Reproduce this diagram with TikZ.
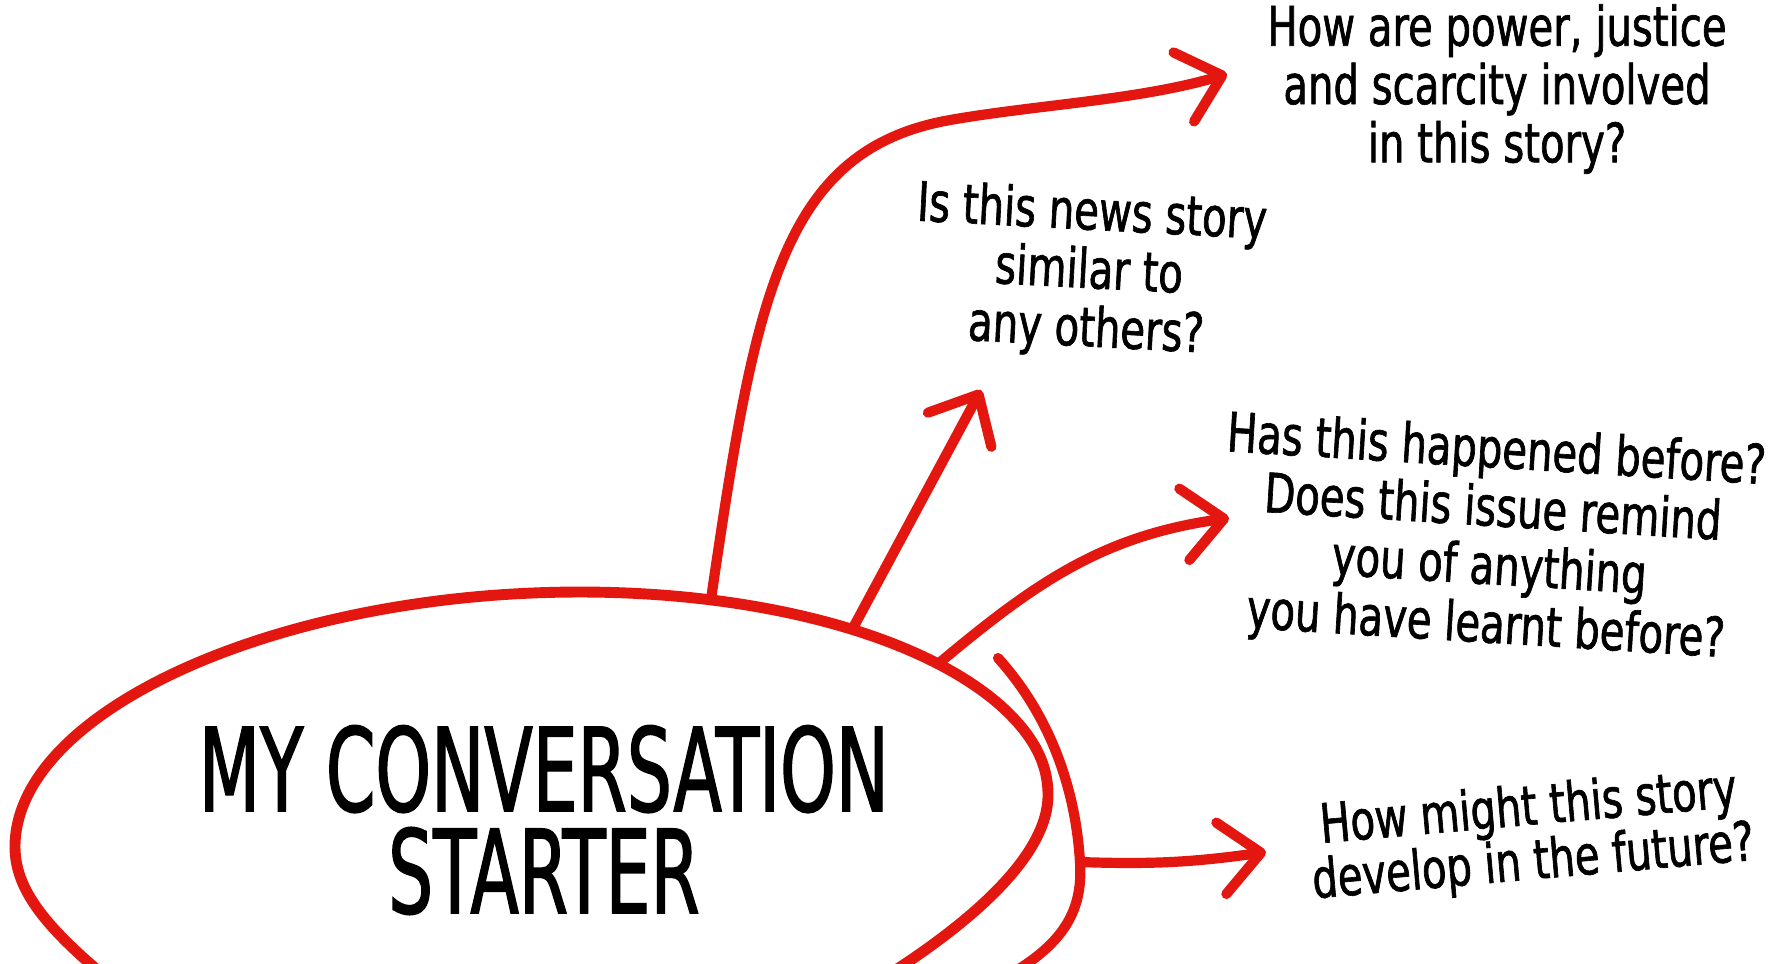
\documentclass[tikz,border=0pt]{standalone}
\usepackage{fontspec}
\usetikzlibrary{arrows.meta}
\newfontfamily\handfont[FakeStretch=0.68,FakeBold=1.2]{DejaVu Sans Condensed}
\newfontfamily\questfont[FakeStretch=0.82,FakeBold=1.2]{DejaVu Sans Condensed}
\definecolor{markred}{HTML}{E3170F}

\begin{document}
\begin{tikzpicture}
[marker/.style={draw=markred, line width=2.9pt, line cap=round, line join=round},
 pointer/.style={marker, -{Straight Barb[length=4mm, width=7.2mm, round]}},
 question/.style={font=\questfont\fontsize{15.5}{16.6}\selectfont, align=center, inner sep=0pt}]
\useasboundingbox (0,0) rectangle (17.85,-9.63);
\clip (0,0) rectangle (17.85,-9.63);
% the starter loop, drawn by hand
\draw [marker, line width=3.1pt] (1.15,-9.85) .. controls (0.55,-9.35) and (0.15,-8.95) .. (0.15,-8.47)
  .. controls (0.15,-7.1) and (2.8,-5.92) .. (5.8,-5.92)
  .. controls (7.6,-5.92) and (9.2,-6.35) .. (10.0,-7.05)
  .. controls (10.3,-7.32) and (10.48,-7.6) .. (10.48,-7.95)
  .. controls (10.48,-8.6) and (9.6,-9.3) .. (8.8,-9.8);
\node [font=\handfont\fontsize{33}{29}\selectfont, align=center] (title) at (5.44,-8.2) {MY CONVERSATION\\STARTER};
\coordinate (s1) at (7.11,-5.99);
\coordinate (s2) at (8.53,-6.28);
\coordinate (s3) at (9.38,-6.64);
\coordinate (s4) at (10.80,-8.62);
\draw [marker] (9.98,-6.58) .. controls (10.45,-7.1) and (10.75,-7.8) .. (s4) .. controls (10.83,-9.1) and (10.65,-9.45) .. (10.0,-9.8);
% questions
\node [question] (power) at (14.97,-0.89) {How are power, justice\\and scarcity involved\\in this story?};
\node [question, rotate=-3] (similar) at (10.89,-2.73) {Is this news story\\similar to\\any others?};
\node [question, rotate=-3.5] (before) at (14.91,-5.4) {Has this happened before?\\Does this issue remind\\you of anything\\you have learnt before?};
\node [question, rotate=5, font=\questfont\fontsize{15.5}{15.5}\selectfont] (future) at (15.31,-8.37) {How might this story\\develop in the future?};
\coordinate (t1) at (12.27,-0.74);
\coordinate (t2) at (9.81,-3.90);
\coordinate (t3) at (12.29,-5.18);
\coordinate (t4) at (12.66,-8.52);
% arrows
\draw [pointer] (s1) .. controls (7.55,-3.0) and (7.8,-1.5) .. (9.5,-1.2) .. controls (10.35,-1.05) and (11.4,-1.0) .. (t1);
\draw [pointer] (s2) -- (t2);
\draw [pointer] (s3) to [out=40, in=188] (t3);
\draw [pointer] (s4) to [out=-2, in=188] (t4);
\end{tikzpicture}
\end{document}
